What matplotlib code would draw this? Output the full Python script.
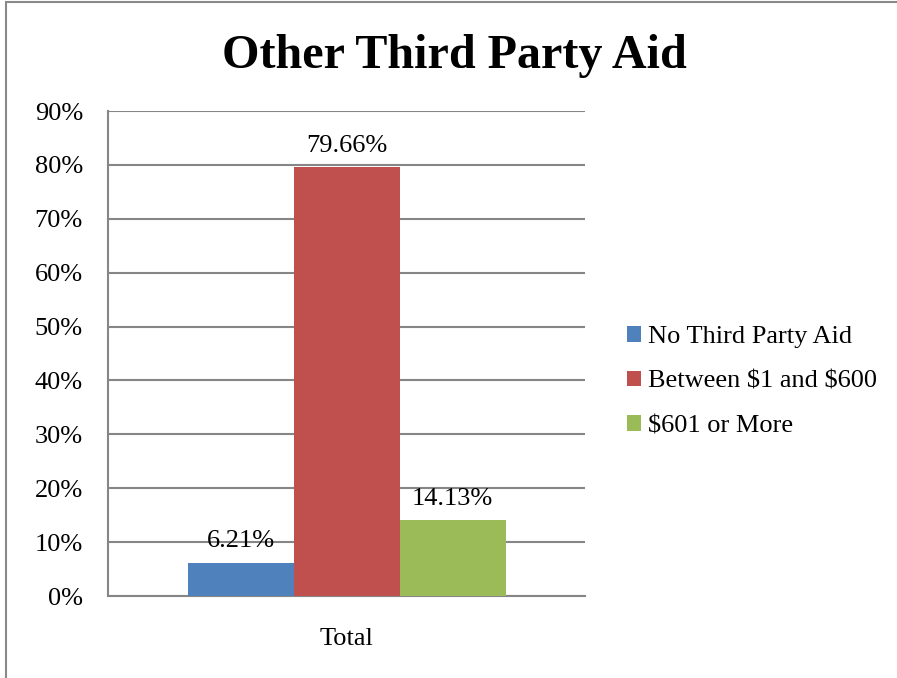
import matplotlib
matplotlib.use('Agg')
import matplotlib.pyplot as plt
from matplotlib.patches import Patch, Rectangle

plt.rcParams['font.family'] = ['Liberation Serif', 'DejaVu Serif']

# data
categories = ['Total']
series = ['No Third Party Aid', 'Between \\$1 and \\$600', '\\$601 or More']
values = [6.21, 79.66, 14.13]
colors = ['#4f81bd', '#c0504d', '#9bbb59']
yticks = [0, 10, 20, 30, 40, 50, 60, 70, 80, 90]

fig = plt.figure(figsize=(8.97, 6.78), dpi=100)
ax = fig.add_axes([0.1204, 0.1209, 0.5318, 0.7153])

grid_col = '#868686'
xs = [-1, 0, 1]
bars = ax.bar(xs, values, width=1.0, color=colors, zorder=3)
for x, v in zip(xs, values):
    ax.text(x, v + 1.9, '%.2f%%' % v, ha='center', va='bottom', fontsize=19)

ax.set_xlim(-2.25, 2.25)
ax.set_ylim(0, 90)
ax.set_yticks(yticks)
ax.set_yticklabels(['%d%%' % t for t in yticks], fontsize=19)
ax.set_xticks([0])
ax.set_xticklabels(categories, fontsize=19)
ax.tick_params(axis='y', length=0, pad=18)
ax.tick_params(axis='x', length=0, pad=23)
ax.yaxis.grid(True, color=grid_col, linewidth=1.5, zorder=0)
for s in ['top', 'right']:
    ax.spines[s].set_visible(False)
for s in ['left', 'bottom']:
    ax.spines[s].set_color(grid_col)
    ax.spines[s].set_linewidth(1.5)

fig.text(0.5061, 0.918, 'Other Third Party Aid', ha='center', va='center',
         fontsize=34.7, fontweight='bold')

handles = [Patch(facecolor=c, edgecolor='none') for c in colors]
fig.legend(handles, series, loc='center left', bbox_to_anchor=(0.699, 0.437),
           frameon=False, fontsize=19, handlelength=0.53, handleheight=0.53,
           handletextpad=0.25, labelspacing=0.85, borderaxespad=0, borderpad=0)

# chart border
fig.patches.append(Rectangle((6 / 897, -0.1), 1.2, 1.1 - 2 / 678 + 0.0,
                             transform=fig.transFigure, fill=False,
                             edgecolor='#898989', linewidth=1.5))

fig.savefig('out.png', dpi=100)
